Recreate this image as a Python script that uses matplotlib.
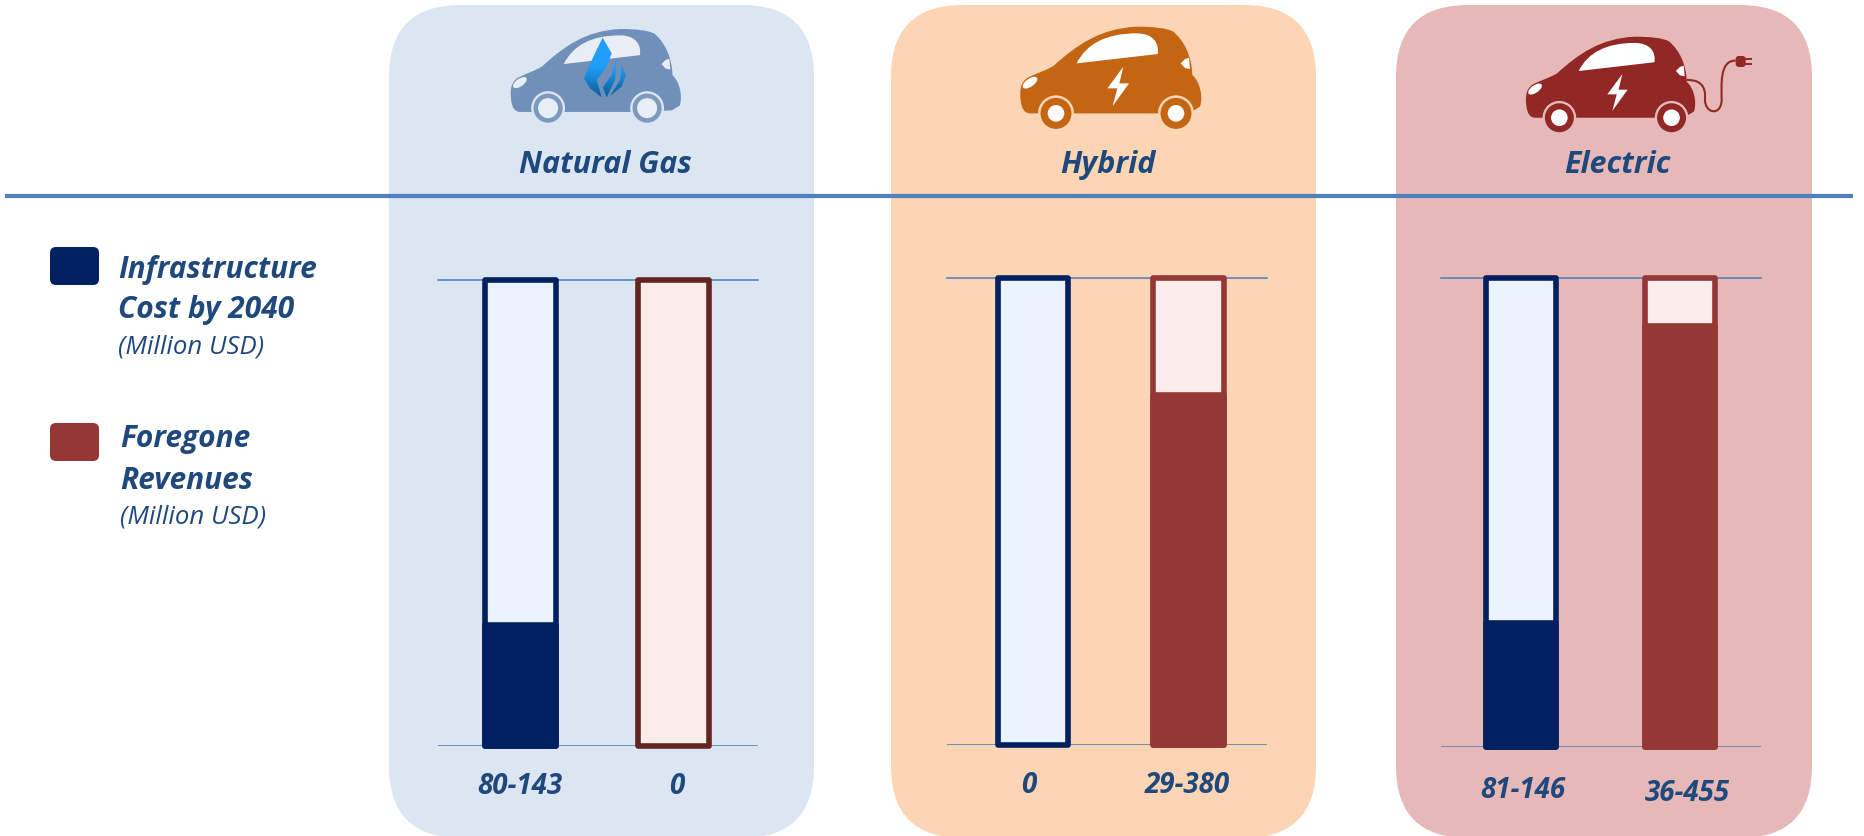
import matplotlib
matplotlib.use("Agg")
import matplotlib.pyplot as plt
import numpy as np
from matplotlib.colors import LinearSegmentedColormap
from matplotlib.patches import Circle, Ellipse, FancyBboxPatch, PathPatch, Polygon
from matplotlib.path import Path

plt.rcParams["font.family"] = ["Open Sans", "DejaVu Sans"]

# values in million USD
fuels = ["Natural Gas", "Hybrid", "Electric"]
infra_low = [80, 0, 81]
infra_high = [143, 0, 146]
revenue_low = [0, 29, 36]
revenue_high = [0, 380, 455]

# full height of each bar track on its own scale
INFRA_MAX = 550
REVENUE_MAX = 507

W, H = 1865, 836
TEXT = "#1f497d"
RULE = "#4f81bd"
NAVY = "#002060"
BRICK = "#953735"
PX = 0.72  # one pixel in points at dpi 100

panels = [
    dict(x0=389, x1=814, bg="#dce6f2", title_x=605,
         axes=(438, 280, 758, 745.7), bars=(82.6, 235.7), rev_edge="#632523",
         label_x=(520, 677), label_y=(794, 794)),
    dict(x0=891, x1=1316, bg="#fcd5b5", title_x=1108,
         axes=(947, 278.3, 1267, 745.3), bars=(86, 241.7), rev_edge=BRICK,
         label_x=(1029, 1187), label_y=(793, 793)),
    dict(x0=1396, x1=1812, bg="#e6b9b8", title_x=1617,
         axes=(1441, 278.3, 1761, 747), bars=(80, 239), rev_edge=BRICK,
         label_x=(1523, 1687), label_y=(798, 801)),
]

BODY = [
    (Path.MOVETO, (392, 300)),
    (Path.CURVE4, (388, 270)), (Path.CURVE4, (392, 245)), (Path.CURVE4, (415, 232)),
    (Path.CURVE4, (440, 220)), (Path.CURVE4, (470, 210)), (Path.CURVE4, (490, 198)),
    (Path.CURVE4, (560, 135)), (Path.CURVE4, (630, 85)), (Path.CURVE4, (740, 80)),
    (Path.CURVE4, (790, 80)), (Path.CURVE4, (830, 84)), (Path.CURVE4, (850, 95)),
    (Path.CURVE4, (885, 125)), (Path.CURVE4, (905, 170)), (Path.CURVE4, (907, 225)),
    (Path.CURVE4, (930, 245)), (Path.CURVE4, (940, 290)), (Path.CURVE4, (930, 320)),
    (Path.LINETO, (905, 335)),
    (Path.LINETO, (810, 340)),
    (Path.LINETO, (545, 340)),
    (Path.LINETO, (420, 340)),
    (Path.CURVE3, (395, 340)), (Path.CURVE3, (392, 300)),
]
WINDOW = [
    (Path.MOVETO, (560, 190)),
    (Path.CURVE4, (590, 130)), (Path.CURVE4, (650, 100)), (Path.CURVE4, (740, 100)),
    (Path.CURVE4, (790, 100)), (Path.CURVE4, (808, 130)), (Path.CURVE4, (803, 162)),
    (Path.CLOSEPOLY, (560, 190)),
]
REAR_LIGHT = [(872, 190), (885, 177), (897, 173), (900, 207), (885, 204)]
BOLT = [(700, 200), (652, 265), (682, 265), (668, 318), (717, 250), (688, 250)]
FLAME_A = [(668, 113), (695, 160), (680, 200), (650, 240), (665, 292), (630, 265), (612, 235), (640, 170)]
FLAME_B = [(710, 175), (695, 225), (668, 262), (680, 292), (705, 240)]
FLAME_C = [(725, 195), (738, 225), (725, 260), (690, 288), (720, 240)]

fig = plt.figure(figsize=(W / 100, H / 100), dpi=100, facecolor="white")

# backdrop layer in pixel coordinates: panels, rule, icons and text
bg = fig.add_axes([0, 0, 1, 1], zorder=0)
bg.set_axis_off()


def add_car(ox, oy, sx, sy, body, window, hub, ring, gap, wheels=((498, 340), (858, 340)), hub_r=8.3):
    """Car icon; outline points are scaled and shifted onto the page."""
    def tf(p):
        return (ox + (p[0] - 390) * sx / 3, oy + (p[1] - 80) * sy / 3)

    def curve(cmds):
        return Path([tf(p) for _, p in cmds], [c for c, _ in cmds])

    bg.add_patch(PathPatch(curve(BODY), fc=body, ec="none", zorder=4))
    bg.add_patch(PathPatch(curve(WINDOW), fc=window, ec="none", zorder=5))
    bg.add_patch(Polygon([tf(p) for p in REAR_LIGHT], fc=window, ec="none", zorder=5))
    lx, ly = tf((420, 248))
    bg.add_patch(Ellipse((lx, ly), 17 * sx, 8 * sy, angle=-35, fc=window, ec="none", zorder=5))
    for wheel in wheels:
        cx, cy = tf(wheel)
        bg.add_patch(Circle((cx, cy), 18 * sx, fc=gap, ec="none", zorder=5))
        bg.add_patch(Circle((cx, cy), 15.5 * sx, fc=ring, ec="none", zorder=6))
        bg.add_patch(Circle((cx, cy), hub_r, fc=hub, ec="none", zorder=7))
    return tf


for p in panels:
    bg.add_patch(FancyBboxPatch((p["x0"], 5), p["x1"] - p["x0"], 833,
                                boxstyle="round,pad=0,rounding_size=72",
                                fc=p["bg"], ec="none", zorder=1))

bg.plot([5, 1853], [196, 196], color=RULE, lw=4.2 * PX, solid_capstyle="butt", zorder=3)

# natural gas car with its flame
tf = add_car(510.5, 29, 0.94, 0.957, "#7090b9", "#e9eef6", "#e9eef6", "#7c9abf", "#dce6f2",
             wheels=((510, 328), (826, 328)), hub_r=10)
flame_map = LinearSegmentedColormap.from_list("flame", ["#0a5d92", "#1f9dfb", "#23a0ff"])
for pts in (FLAME_A, FLAME_B, FLAME_C):
    poly = Polygon([(380 + x / 3, y / 3) for x, y in pts], fc="none", ec="none", zorder=8,
                   transform=bg.transData)
    bg.add_patch(poly)
    im = bg.imshow(np.linspace(0, 1, 64).reshape(-1, 1), cmap=flame_map, aspect="auto",
                   extent=(580, 630, 98, 36), origin="lower", zorder=8)
    im.set_clip_path(poly)

# hybrid car
tf = add_car(1020, 26.7, 1, 1, "#c46514", "white", "white", "#c46514", "#fcd5b5")
bg.add_patch(Polygon([tf(p) for p in BOLT], fc="white", ec="none", zorder=6))

# electric car, with cable and plug
tf = add_car(1525.7, 36.7, 0.935, 0.935, "#922825", "white", "white", "#922825", "#e6b9b8")
bg.add_patch(Polygon([tf(p) for p in BOLT], fc="white", ec="none", zorder=6))
ELEC = lambda x, y: (1395 + x / 3, y / 3)
cable = Path([ELEC(*q) for q in [(875, 240), (925, 238), (930, 280), (930, 300), (930, 340), (978, 350),
                                 (980, 300), (980, 260), (972, 180), (1022, 182)]],
             [Path.MOVETO, Path.CURVE3, Path.CURVE3, Path.LINETO, Path.CURVE4, Path.CURVE4, Path.CURVE4,
              Path.CURVE4, Path.CURVE4, Path.CURVE4])
bg.add_patch(PathPatch(cable, fc="none", ec="#922825", lw=1.5, zorder=4))
bg.add_patch(FancyBboxPatch(ELEC(1022, 168), 10, 11, boxstyle="round,pad=0,rounding_size=3",
                            fc="#922825", ec="none", zorder=5))
for py in (176, 192):
    bg.plot(*zip(ELEC(1050, py), ELEC(1068, py)), color="#922825", lw=1.4, zorder=5)

for p, name in zip(panels, fuels):
    bg.text(p["title_x"], 173, name, ha="center", va="baseline", color=TEXT,
            fontsize=22, fontweight="bold", fontstyle="italic", zorder=9)


def range_label(low, high):
    return f"{low}-{high}" if high else "0"


for i, p in enumerate(panels):
    bg.text(p["label_x"][0], p["label_y"][0], range_label(infra_low[i], infra_high[i]), ha="center",
            va="baseline", color=TEXT, fontsize=20, fontweight="bold", fontstyle="italic", zorder=9)
    bg.text(p["label_x"][1], p["label_y"][1], range_label(revenue_low[i], revenue_high[i]), ha="center",
            va="baseline", color=TEXT, fontsize=20, fontweight="bold", fontstyle="italic", zorder=9)

# legend
for top, colour in ((247, NAVY), (423, BRICK)):
    bg.add_patch(FancyBboxPatch((50, top), 49, 38, boxstyle="round,pad=0,rounding_size=6",
                                fc=colour, ec="none", zorder=3))
legend_lines = [
    (118, 278, "Infrastructure", True), (118, 318, "Cost by 2040", True), (118, 353, "(Million USD)", False),
    (120, 447, "Foregone", True), (120, 489, "Revenues", True), (120, 523, "(Million USD)", False),
]
for x, y, s, strong in legend_lines:
    bg.text(x, y, s, color=TEXT, va="baseline", fontstyle="italic",
            fontweight="bold" if strong else "normal", fontsize=21.5 if strong else 18.5)

bg.set_xlim(0, W)
bg.set_ylim(H, 0)

# one chart per fuel: infrastructure on the left axis, revenues on a twin


def draw_bar(ax, x, value, top, face, edge):
    width = 70.5
    ax.bar(x, top, width=width, color=face, edgecolor=edge, linewidth=5.6 * PX,
           joinstyle="round", clip_on=False, zorder=3)
    if value:
        ax.bar(x, value, width=width, color=edge, edgecolor=edge, linewidth=5.6 * PX,
               joinstyle="round", clip_on=False, zorder=4)


for i, p in enumerate(panels):
    left, top, right, bottom = p["axes"]
    rect = [left / W, 1 - bottom / H, (right - left) / W, (bottom - top) / H]
    ax = fig.add_axes(rect, zorder=2)
    ax.set_xlim(0, right - left)
    ax.set_ylim(0, INFRA_MAX)
    ax.set_axis_off()
    ax.axhline(0, color=RULE, lw=1.6 * PX, zorder=1)
    ax.axhline(INFRA_MAX, color=RULE, lw=1.6 * PX, zorder=1, clip_on=False)
    draw_bar(ax, p["bars"][0], infra_high[i], INFRA_MAX, "#ebf3fe", NAVY)

    rev = ax.twinx()
    rev.set_ylim(0, REVENUE_MAX)
    rev.set_axis_off()
    draw_bar(rev, p["bars"][1], revenue_high[i], REVENUE_MAX, "#f9ecea", p["rev_edge"])

fig.savefig("out.png", dpi=100)
